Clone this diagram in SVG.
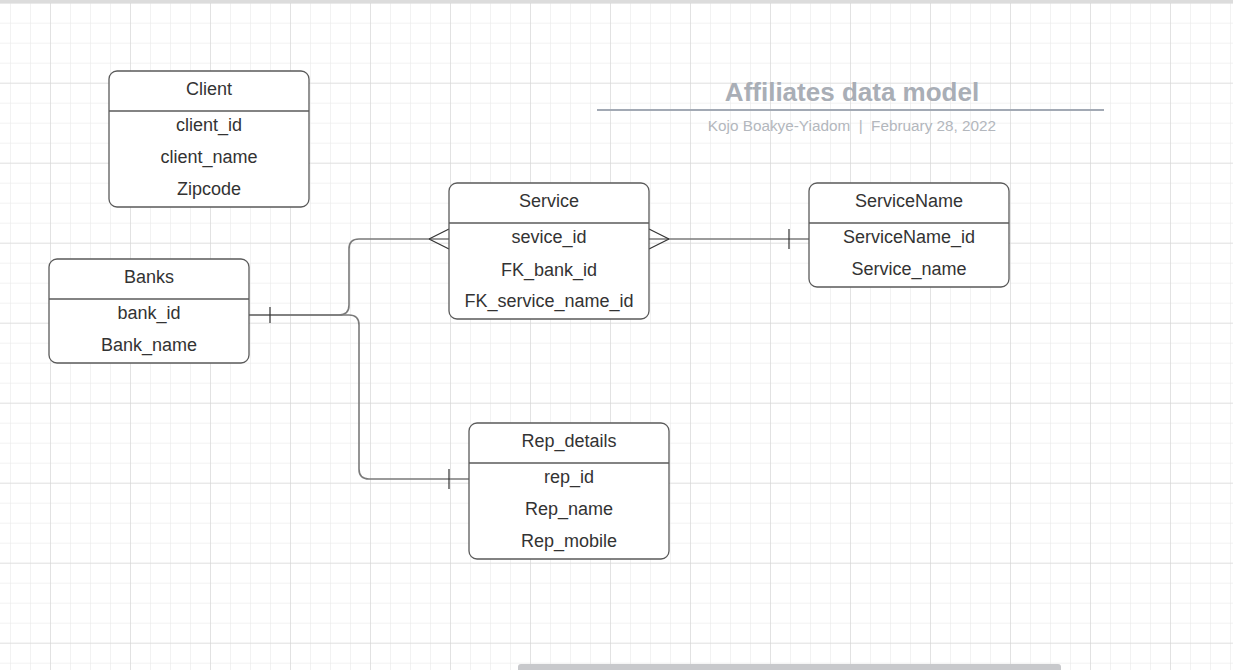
<svg xmlns="http://www.w3.org/2000/svg" width="1233" height="670" viewBox="0 0 1233 670">
<defs>
<pattern id="minor" x="10" y="2.7" width="20" height="20" patternUnits="userSpaceOnUse">
<path d="M0 0H20M0 0V20" fill="none" stroke="#e6e6e6" stroke-width="1"/>
</pattern>
<pattern id="major" x="50" y="2.7" width="80" height="80" patternUnits="userSpaceOnUse">
<path d="M0 0H80M0 0V80" fill="none" stroke="#d2d2d2" stroke-width="1"/>
</pattern>
</defs>
<style>
.box{fill:#fff;stroke:#5a5a5a;stroke-width:1.3}
.sep{stroke:#5a5a5a;stroke-width:1.3}
.t{font-family:"Liberation Sans",Arial,sans-serif;font-size:18px;fill:#333;text-anchor:middle}
.c{fill:none;stroke:#7a7a7a;stroke-width:1.6}
.k{fill:none;stroke:#333;stroke-width:1.2}
</style>
<rect width="1233" height="670" fill="#fff"/>
<rect width="1233" height="670" fill="url(#minor)"/>
<rect width="1233" height="670" fill="url(#major)"/>
<rect x="0" y="0" width="1233" height="3" fill="#dcdcdc"/>
<rect x="518" y="664" width="543" height="8" rx="3" fill="#c8c9cc"/>

<g id="title">
<text x="852" y="101" font-family="Liberation Sans,Arial,sans-serif" font-size="26" font-weight="bold" fill="#a9aeb6" text-anchor="middle">Affiliates data model</text>
<line x1="597" y1="110" x2="1104" y2="110" stroke="#a2a9b4" stroke-width="2"/>
<text x="852" y="131" font-family="Liberation Sans,Arial,sans-serif" font-size="15.3" fill="#b3b7bd" text-anchor="middle" xml:space="preserve">Kojo Boakye-Yiadom  |  February 28, 2022</text>
</g>

<g id="connectors">
<path class="c" d="M249 315H339Q349 315 349 305V249Q349 239 359 239H449"/>
<path class="c" d="M249 315H349Q359 315 359 325V469Q359 479 369 479H469"/>
<path class="c" d="M649 239H809"/>
<path class="k" d="M270 307V323"/>
<path class="k" d="M429 239L449 229M429 239L449 249"/>
<path class="k" d="M669 239L649 229M669 239L649 249"/>
<path class="k" d="M789 229V249"/>
<path class="k" d="M449 469V489"/>
</g>

<g id="client">
<rect class="box" x="109" y="71" width="200" height="136" rx="8"/>
<line class="sep" x1="109" y1="111" x2="309" y2="111"/>
<text class="t" x="209" y="94.5">Client</text>
<text class="t" x="209" y="130.5">client_id</text>
<text class="t" x="209" y="162.5">client_name</text>
<text class="t" x="209" y="194.5">Zipcode</text>
</g>

<g id="banks">
<rect class="box" x="49" y="259" width="200" height="104" rx="8"/>
<line class="sep" x1="49" y1="299" x2="249" y2="299"/>
<text class="t" x="149" y="282.5">Banks</text>
<text class="t" x="149" y="318.5">bank_id</text>
<text class="t" x="149" y="350.5">Bank_name</text>
</g>

<g id="service">
<rect class="box" x="449" y="183" width="200" height="136" rx="8"/>
<line class="sep" x1="449" y1="223" x2="649" y2="223"/>
<text class="t" x="549" y="206.5">Service</text>
<text class="t" x="549" y="242.5">sevice_id</text>
<text class="t" x="549" y="275.5">FK_bank_id</text>
<text class="t" x="549" y="306.5">FK_service_name_id</text>
</g>

<g id="servicename">
<rect class="box" x="809" y="183" width="200" height="104" rx="8"/>
<line class="sep" x1="809" y1="223" x2="1009" y2="223"/>
<text class="t" x="909" y="206.5">ServiceName</text>
<text class="t" x="909" y="242.5">ServiceName_id</text>
<text class="t" x="909" y="274.5">Service_name</text>
</g>

<g id="rep_details">
<rect class="box" x="469" y="423" width="200" height="136" rx="8"/>
<line class="sep" x1="469" y1="463" x2="669" y2="463"/>
<text class="t" x="569" y="446.5">Rep_details</text>
<text class="t" x="569" y="482.5">rep_id</text>
<text class="t" x="569" y="514.5">Rep_name</text>
<text class="t" x="569" y="546.5">Rep_mobile</text>
</g>
</svg>
